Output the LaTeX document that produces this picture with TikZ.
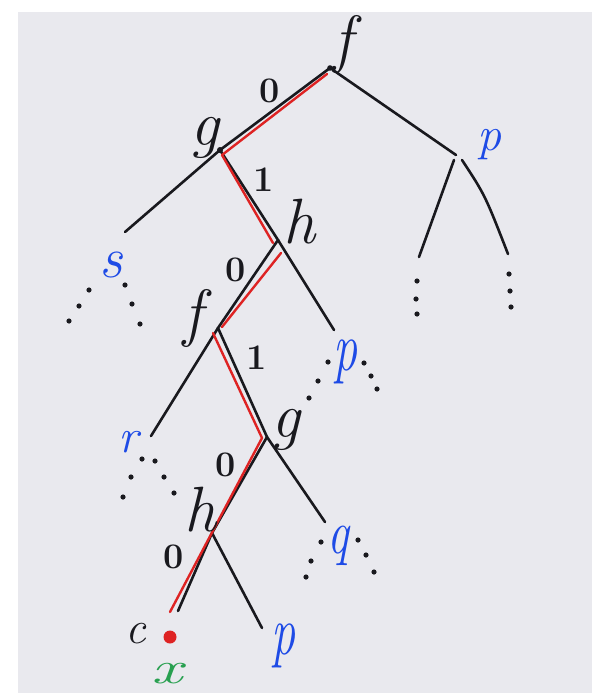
\documentclass[tikz,border=0pt]{standalone}
\definecolor{paper}{RGB}{233,233,238}
\definecolor{pathred}{RGB}{222,35,35}
\definecolor{leafblue}{RGB}{30,75,230}
\definecolor{xgreen}{RGB}{40,160,80}
\definecolor{ink}{RGB}{25,25,30}
\begin{document}
\begin{tikzpicture}[x=1pt,y=-1pt,
  edge/.style={line width=2.6pt, line cap=round, draw=ink},
  redpath/.style={line width=2.4pt, line cap=round, line join=round, draw=pathred},
  lbl/.style={inner sep=0pt, text=ink, font=\fontsize{64}{64}\selectfont\itshape},
  dig/.style={inner sep=0pt, text=ink, font=\fontsize{36}{36}\selectfont\bfseries},
  leaf/.style={inner sep=0pt, text=leafblue, font=\fontsize{48}{48}\selectfont\itshape},
  dots/.style={fill=ink}]
\useasboundingbox (0,0) rectangle (592,693);
\fill[white] (0,0) rectangle (592,693);
\fill[paper] (18,12) rectangle (592,693);

% junctions
\coordinate (F0) at (330,68);
\coordinate (G1) at (220,150);
\coordinate (H1) at (278,240);
\coordinate (F2) at (218,328);
\coordinate (G2) at (267,437);
\coordinate (H2) at (212,533);
\coordinate (C)  at (178,611);
\coordinate (PR) at (456,155);
\coordinate (PRl) at (454,160);
\coordinate (PRr) at (462,160);
\coordinate (PL) at (419,257);
\coordinate (PRR) at (508,254);
\coordinate (SE) at (125,232);
\coordinate (PM) at (334,330);
\coordinate (RE) at (151,436);
\coordinate (QE) at (325,522);
\coordinate (PB) at (262,628);

% black edges
\draw[edge] (F0) -- (G1) -- (H1) -- (F2) -- (G2) -- (H2) -- (C);
\draw[edge] (333,70) -- (PR);
\draw[edge] (PRl) -- (PL);
\draw[edge] (PRr) .. controls (485,195) .. (PRR);
\draw[edge] (G1) -- (SE);
\draw[edge] (H1) -- (PM);
\draw[edge] (F2) -- (RE);
\draw[edge] (G2) -- (QE);
\draw[edge] (H2) -- (PB);

% red path
\coordinate (r1) at (327,74);
\coordinate (r2) at (222,155);
\coordinate (r3) at (273,243);
\coordinate (r4) at (281,253);
\coordinate (r5) at (222,327);
\coordinate (r6) at (213,333);
\coordinate (r7) at (262,438);
\coordinate (r8) at (170,612);
\draw[redpath] (r1) -- (r2) -- (r3);
\draw[redpath] (r4) -- (r5);
\draw[redpath] (r6) -- (r7) -- (r8);
\fill[ink] (F0) circle (2.8pt);
\fill[ink] (G1) circle (3pt);

% dots under subtrees
\foreach \p in {(417,281),(416,299),(417,314),(509,274),(510,291),(511,307),
  (89,290),(79,306),(69,321),(125,285),(132,304),(140,324),
  (328,362),(318,381),(309,398),(364,363),(371,376),(377,389),
  (142,459),(131,477),(123,497),(155,461),(164,477),(174,493),
  (321,542),(311,561),(306,577),(358,540),(366,555),(374,572)}
  \fill[dots] \p circle (2.6pt);

% labels
\node[lbl] (lf0) at (343,45) {f};
\node[dig] (d1) at (270,91) {0};
\node[lbl] (lg1) at (205,138) {g};
\node[leaf] (lp1) at (489,145) {p};
\node[dig] (d2) at (264,180) {1};
\node[lbl] (lh1) at (299,222) {h};
\node[leaf, font=\fontsize{58}{58}\selectfont\itshape] (ls) at (111,265) {s};
\node[dig] (d3) at (236,270) {0};
\node[lbl] (lf2) at (193,318) {f};
\node[leaf] (lp2) at (345,362) {\scalebox{1}[1.45]{p}};
\node[dig] (d4) at (257,358) {1};
\node[leaf] (lr) at (128,442) {r};
\node[lbl] (lg2) at (286,430) {g};
\node[dig] (d5) at (226,465) {0};
\node[lbl] (lh2) at (200,510) {h};
\node[leaf] (lq) at (338,546) {\scalebox{1}[1.3]{q}};
\node[dig] (d6) at (174,557) {0};
\node[lbl, font=\fontsize{46}{46}\selectfont\itshape] (lc) at (136,634) {c};
\node[circle, fill=pathred, inner sep=0pt, minimum size=13pt] (xd) at (170,637) {};
\node[inner sep=0pt, text=xgreen, font=\fontsize{46}{46}\selectfont\itshape] (lx) at (167,674) {\scalebox{1.5}[1]{x}};
\node[leaf] (lp3) at (283,646) {\scalebox{1}[1.45]{p}};
\end{tikzpicture}
\end{document}
